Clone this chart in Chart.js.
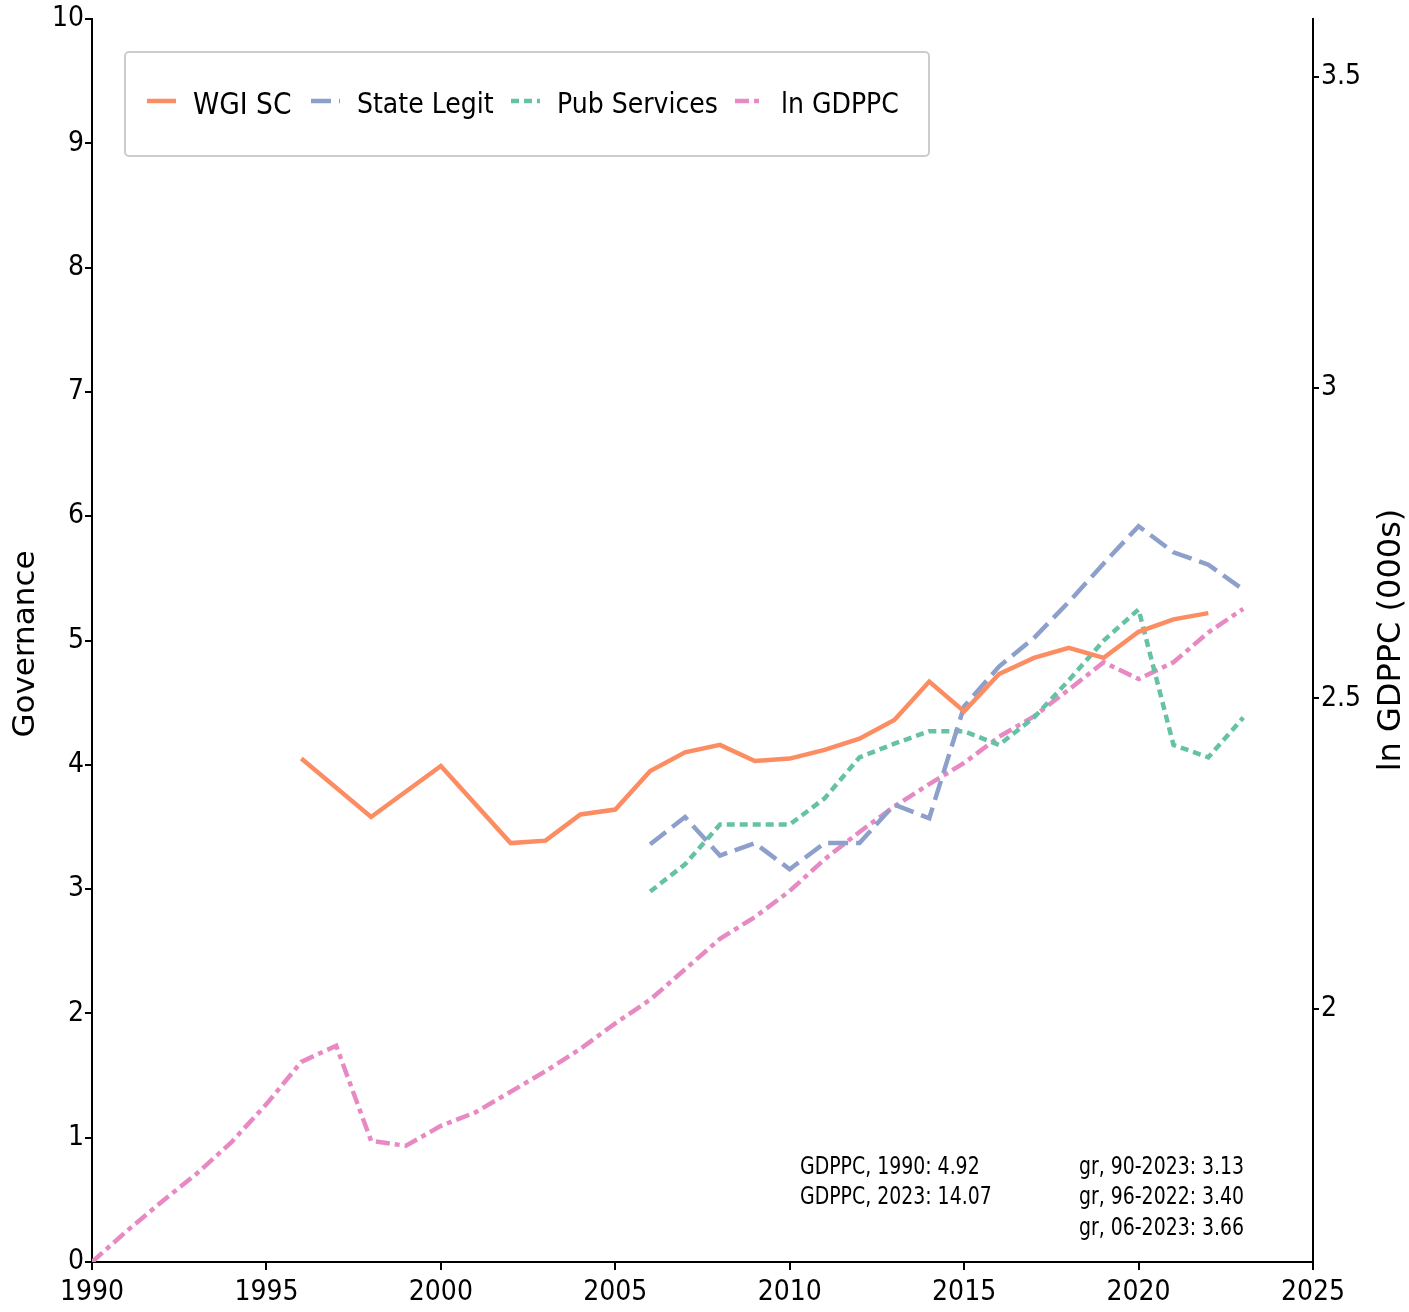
<!DOCTYPE html>
<html>
<head>
<meta charset="utf-8">
<script src="https://cdn.jsdelivr.net/npm/chart.js@4/dist/chart.umd.min.js"></script>
<style>
  html, body { margin: 0; padding: 0; background: #fff; }
  #wrap { width: 1409px; height: 1312px; }
</style>
</head>
<body>
<div id="wrap"><canvas id="govChart" width="1409" height="1312"></canvas></div>
<script>
// years on the x axis
const years = [1990,1991,1992,1993,1994,1995,1996,1997,1998,1999,2000,2001,2002,2003,2004,2005,2006,2007,2008,2009,2010,2011,2012,2013,2014,2015,2016,2017,2018,2019,2020,2021,2022,2023];

// governance series (left axis), null = no value that year
const wgiSC = [null,null,null,null,null,null,4.05,null,3.58,null,3.99,null,3.37,3.39,3.60,3.64,3.95,4.10,4.16,4.03,4.05,4.12,4.21,4.36,4.67,4.43,4.73,4.86,4.94,4.86,5.07,5.17,5.22,null];
const stateLegit = [null,null,null,null,null,null,null,null,null,null,null,null,null,null,null,null,3.36,3.58,3.27,3.37,3.16,3.37,3.37,3.68,3.57,4.47,4.79,5.02,5.31,5.62,5.92,5.71,5.61,5.41];
const pubServices = [null,null,null,null,null,null,null,null,null,null,null,null,null,null,null,null,2.98,3.20,3.52,3.52,3.52,3.73,4.06,4.17,4.27,4.27,4.16,4.38,4.68,5.00,5.25,4.16,4.06,4.38];

// ln GDPPC (right axis)
const lnGdppc = [1.593,1.643,1.690,1.735,1.786,1.847,1.915,1.941,1.788,1.780,1.812,1.834,1.867,1.900,1.936,1.977,2.015,2.064,2.113,2.148,2.190,2.241,2.285,2.326,2.362,2.396,2.438,2.471,2.514,2.558,2.531,2.558,2.606,2.644];

// tick labels
const xTicks = [1990,1995,2000,2005,2010,2015,2020,2025];
const leftTicks = [0,1,2,3,4,5,6,7,8,9,10];
const rightTicks = [2,2.5,3,3.5];
const rightMin = 1.593, rightMax = 3.593;

// text notes in the lower right
const notesLeft = ['GDPPC, 1990: 4.92', 'GDPPC, 2023: 14.07'];
const notesRight = ['gr, 90-2023: 3.13', 'gr, 96-2022: 3.40', 'gr, 06-2023: 3.66'];

const tickFont = "'DejaVu Sans Condensed', 'Liberation Sans Narrow', sans-serif";
const titleFont = "'DejaVu Sans', Verdana, sans-serif";
const legendFont = "'DejaVu Sans Condensed', 'Liberation Sans Narrow', sans-serif";

function toPoints(vals){
	return years.map((yr, i) => ({ x: yr, y: vals[i] }));
}

// legend box, axis titles and notes
const extrasPlugin = {
	id: 'extras',
	afterDraw(chart){
		const ctx = chart.ctx;
		ctx.save();
		// legend box
		ctx.beginPath();
		ctx.roundRect(125, 52, 804, 104, 4);
		ctx.fillStyle = '#fff';
		ctx.fill();
		ctx.strokeStyle = '#cccccc';
		ctx.lineWidth = 2;
		ctx.stroke();

		const itemX = [147, 311, 511, 735];
		chart.data.datasets.forEach((ds, i) => {
			const x = itemX[i];
			ctx.beginPath();
			ctx.setLineDash(ds.borderDash || []);
			ctx.strokeStyle = ds.borderColor;
			ctx.lineWidth = ds.borderWidth;
			ctx.moveTo(x, 101);
			ctx.lineTo(x + 29, 101);
			ctx.stroke();
			ctx.setLineDash([]);
			ctx.fillStyle = '#000';
			ctx.font = (i === 0 ? '29.5px ' : '28px ') + legendFont;
			ctx.textAlign = 'left';
			ctx.textBaseline = 'middle';
			ctx.fillText(ds.label, x + 46, 106);
		});

		// axis titles
		ctx.fillStyle = '#000';
		ctx.textAlign = 'center';
		ctx.textBaseline = 'middle';
		ctx.save();
		ctx.font = '31px ' + titleFont;
		ctx.translate(26, 644);
		ctx.rotate(-Math.PI / 2);
		ctx.fillText('Governance', 0, 0);
		ctx.restore();
		ctx.save();
		ctx.font = '32px ' + titleFont;
		ctx.translate(1392, 640);
		ctx.rotate(-Math.PI / 2);
		ctx.fillText('ln GDPPC (000s)', 0, 0);
		ctx.restore();

		// notes, slightly squeezed like the original
		ctx.font = '25px ' + tickFont;
		ctx.textAlign = 'left';
		const sx = 0.84;
		ctx.save();
		ctx.scale(sx, 1);
		notesLeft.forEach((t, i) => ctx.fillText(t, 800 / sx, 1167 + i * 30.5));
		notesRight.forEach((t, i) => ctx.fillText(t, 1079 / sx, 1167 + i * 30.5));
		ctx.restore();
		ctx.restore();
	}
};

const ctx = document.getElementById('govChart').getContext('2d');
new Chart(ctx, {
	type: 'line',
	data: {
		datasets: [
			{ label: 'WGI SC', data: toPoints(wgiSC), yAxisID: 'y', borderColor: '#fc8d62', borderWidth: 4.5, borderDash: [] },
			{ label: 'State Legit', data: toPoints(stateLegit), yAxisID: 'y', borderColor: '#8da0cb', borderWidth: 4.5, borderDash: [20, 8] },
			{ label: 'Pub Services', data: toPoints(pubServices), yAxisID: 'y', borderColor: '#66c2a5', borderWidth: 4.5, borderDash: [8, 5] },
			{ label: 'ln GDPPC', data: toPoints(lnGdppc), yAxisID: 'y1', borderColor: '#e78ac3', borderWidth: 4.5, borderDash: [14, 5, 5, 5] }
		]
	},
	options: {
		responsive: false,
		animation: false,
		spanGaps: true,
		layout: { padding: { top: 19, left: 0, right: 0, bottom: 0 } },
		elements: { point: { radius: 0 }, line: { tension: 0, fill: false } },
		plugins: { legend: { display: false }, tooltip: { enabled: false } },
		scales: {
			x: {
				type: 'linear',
				min: 1990, max: 2025,
				afterBuildTicks: s => { s.ticks = xTicks.map(v => ({ value: v })); },
				afterFit: s => { s.height = 50; },
				ticks: { color: '#000', font: { family: tickFont, size: 28 }, padding: 6, maxRotation: 0, callback: v => String(v) },
				grid: { display: true, drawOnChartArea: false, drawTicks: true, tickLength: 8, color: '#000', lineWidth: 2 },
				border: { display: true, color: '#000', width: 2 }
			},
			y: {
				position: 'left',
				min: 0, max: 10,
				afterBuildTicks: s => { s.ticks = leftTicks.map(v => ({ value: v })); },
				afterFit: s => { s.width = 92; },
				ticks: { color: '#000', font: { family: tickFont, size: 28 }, padding: 1, callback: v => String(v) },
				grid: { display: true, drawOnChartArea: false, drawTicks: true, tickLength: 7, color: '#000', lineWidth: 2 },
				border: { display: true, color: '#000', width: 2 }
			},
			y1: {
				position: 'right',
				min: rightMin, max: rightMax,
				afterBuildTicks: s => { s.ticks = rightTicks.map(v => ({ value: v })); },
				afterFit: s => { s.width = 96; },
				ticks: { color: '#000', font: { family: tickFont, size: 28 }, padding: 2, callback: v => String(v) },
				grid: { display: true, drawOnChartArea: false, drawTicks: true, tickLength: 6, color: '#000', lineWidth: 2 },
				border: { display: true, color: '#000', width: 2 }
			}
		}
	},
	plugins: [extrasPlugin]
});
</script>
</body>
</html>
